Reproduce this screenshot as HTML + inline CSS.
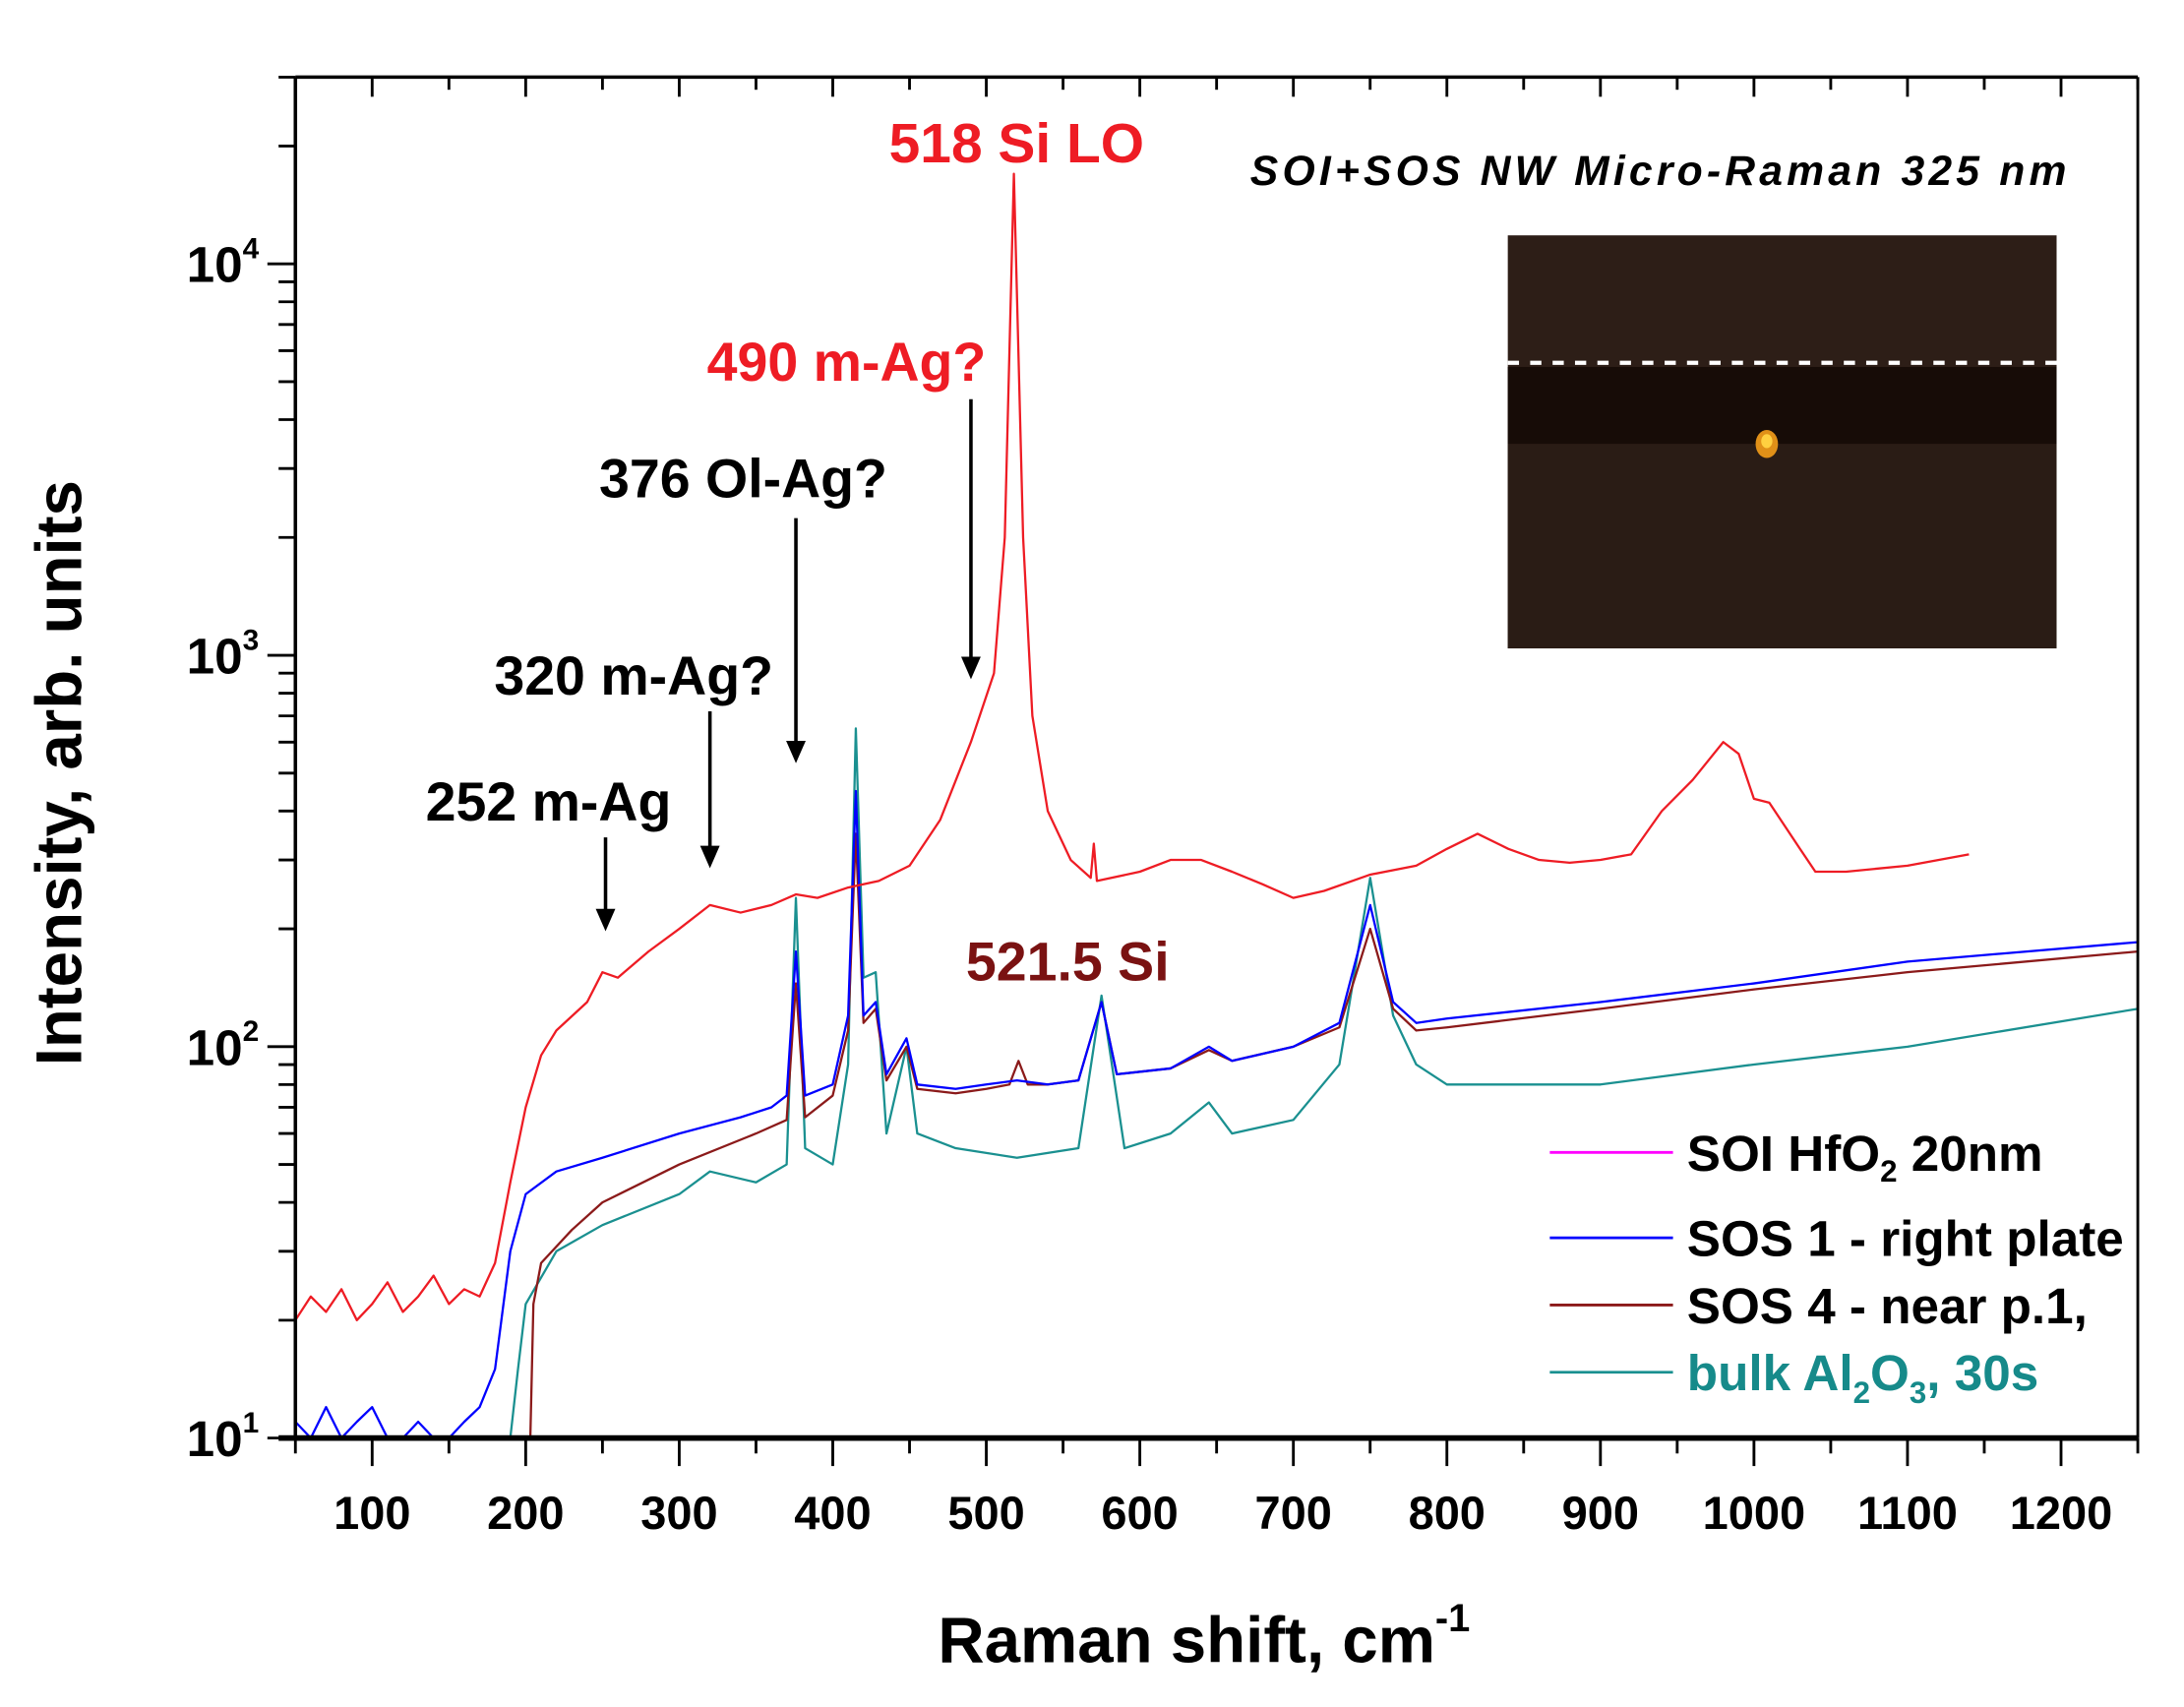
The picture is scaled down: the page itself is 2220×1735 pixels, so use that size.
<!DOCTYPE html>
<html><head><meta charset="utf-8"><style>
html,body{margin:0;padding:0;background:#fff;}
svg{display:block;font-family:"Liberation Sans",sans-serif;font-weight:bold;}
</style></head><body>
<svg id="chart" width="2220" height="1735" viewBox="0 0 1560 1219" xmlns="http://www.w3.org/2000/svg">
<g id="inset">
  <rect x="1077" y="168" width="392" height="295" fill="#2d1e17"/>
  <rect x="1077" y="262" width="392" height="55" fill="#170c07"/>
  <rect x="1077" y="317" width="392" height="146" fill="#2a1c15"/>
  <line x1="1077" y1="259" x2="1469" y2="259" stroke="#fff" stroke-width="3" stroke-dasharray="8,8"/>
  <ellipse cx="1262" cy="317" rx="8" ry="10" fill="#e09018"/>
  <ellipse cx="1262" cy="315" rx="4" ry="5" fill="#ffd040"/>
</g>
<g id="plot"></g>
<text x="893" y="132" font-size="30" font-style="italic" textLength="583" lengthAdjust="spacing">SOI+SOS NW  Micro-Raman  325 nm</text>
<text x="635" y="116" font-size="40" fill="#ee1c24">518 Si LO</text>
<text x="505" y="272" font-size="39" fill="#ee1c24">490 m-Ag?</text>
<text x="428" y="355" font-size="39">376 Ol-Ag?</text>
<text x="353" y="496" font-size="39">320 m-Ag?</text>
<text x="304" y="586" font-size="39">252 m-Ag</text>
<text x="690" y="700" font-size="39" fill="#7a1212">521.5 Si</text>
<text transform="translate(58,552) rotate(-90)" text-anchor="middle" font-size="46">Intensity, arb. units</text>
<text x="860" y="1187" text-anchor="middle" font-size="46">Raman shift, cm<tspan dy="-22" font-size="28">-1</tspan></text>
<g id="legend" font-size="36">
  <line x1="1107" y1="823" x2="1195" y2="823" stroke="#ff00ff" stroke-width="2"/>
  <text x="1205" y="836">SOI HfO<tspan dy="8" font-size="22">2</tspan><tspan dy="-8"> 20nm</tspan></text>
  <line x1="1107" y1="884" x2="1195" y2="884" stroke="#0000ff" stroke-width="2"/>
  <text x="1205" y="897">SOS 1 - right plate</text>
  <line x1="1107" y1="932" x2="1195" y2="932" stroke="#8b1a1a" stroke-width="2"/>
  <text x="1205" y="945">SOS 4 - near p.1,</text>
  <line x1="1107" y1="980" x2="1195" y2="980" stroke="#1a9090" stroke-width="2"/>
  <text x="1205" y="993" fill="#168a8a">bulk Al<tspan dy="9" font-size="22">2</tspan><tspan dy="-9">O</tspan><tspan dy="9" font-size="22">3</tspan><tspan dy="-9">, 30s</tspan></text>
</g>
<script>
const xTicks = [100,200,300,400,500,600,700,800,900,1000,1100,1200];
const yTickExps = [1,2,3,4];
const redX = [50,60,70,80,90,100,110,120,130,140,150,160,170,180,190,200,210,220,240,250,260,280,300,320,340,360,376,390,410,430,450,470,490,505,512,518,524,530,540,555,568,570,572,600,620,640,660,680,700,720,750,780,800,820,840,860,880,900,920,940,960,980,990,1000,1010,1030,1040,1060,1100,1140];
const redY = [20,23,21,24,20,22,25,21,23,26,22,24,23,28,45,70,95,110,130,155,150,175,200,230,220,230,245,240,255,265,290,380,600,900,2000,17000,2000,700,400,300,270,330,265,280,300,300,280,260,240,250,275,290,320,350,320,300,295,300,310,400,480,600,560,430,420,320,280,280,290,310];
const blueX = [50,60,70,80,90,100,110,120,130,140,150,160,170,180,190,200,220,250,300,340,360,370,376,382,400,410,415,420,428,435,448,455,480,500,520,540,560,575,585,620,645,660,700,730,750,765,780,800,900,1000,1100,1250];
const blueY = [11,10,12,10,11,12,10,10,11,10,10,11,12,15,30,42,48,52,60,66,70,75,175,75,80,120,450,120,130,85,105,80,78,80,82,80,82,130,85,88,100,92,100,115,230,130,115,118,130,145,165,185];
const maroonX = [203,205,210,230,250,300,350,370,376,382,400,410,415,420,428,435,448,455,480,500,515,521,527,540,560,575,585,620,645,660,700,730,750,765,780,800,900,1000,1100,1250];
const maroonY = [10,22,28,34,40,50,60,65,145,66,75,110,350,115,125,82,100,78,76,78,80,92,80,80,82,130,85,88,98,92,100,112,200,125,110,112,125,140,155,175];
const tealX = [190,195,200,220,250,300,320,350,370,376,382,400,410,415,420,428,435,448,455,480,520,560,575,590,620,645,660,700,730,750,765,780,800,900,1000,1100,1250];
const tealY = [10,15,22,30,35,42,48,45,50,240,55,50,90,650,150,155,60,100,60,55,52,55,135,55,60,72,60,65,90,270,120,90,80,80,90,100,125];
const arrowsX = [252,320,376,490];
const arrowTop = [598,508,370,285];
const arrowBot = [665,620,545,485];

const L=211,R=1527,T=55,B=1027,X0=50,X1=1250,Ymin=1,Ymax=Math.log10(30000);
function sx(v){return L+(v-X0)/(X1-X0)*(R-L);}
function sy(v){const l=Math.max(Math.log10(v),1);return B-(l-Ymin)/(Ymax-Ymin)*(B-T);}
const NS='http://www.w3.org/2000/svg';
const plot=document.getElementById('plot');
function mk(tag,attrs,parent){const e=document.createElementNS(NS,tag);for(const k in attrs)e.setAttribute(k,attrs[k]);(parent||plot).appendChild(e);return e;}
function series(xs,ys,color,name){
  const d=xs.map((x,i)=>(i?'L':'M')+sx(x).toFixed(1)+','+sy(ys[i]).toFixed(1)).join('');
  const p=mk('path',{d:d,fill:'none',stroke:color,'stroke-width':1.6,'stroke-linejoin':'round'});
  
  
}
series(tealX,tealY,'#1a9090','series-bulk-al2o3');
series(maroonX,maroonY,'#8b1a1a','series-sos4');
series(blueX,blueY,'#0000ff','series-sos1');
series(redX,redY,'#ee1c24','series-soi-hfo2');
const ax=mk('g',{stroke:'#000',fill:'none'});


mk('line',{x1:L,y1:T,x2:L,y2:B,'stroke-width':2.5},ax);
mk('line',{x1:R,y1:T,x2:R,y2:B,'stroke-width':2},ax);
mk('line',{x1:L,y1:T,x2:R,y2:T,'stroke-width':2.5},ax);
mk('line',{x1:L-12,y1:B,x2:R,y2:B,'stroke-width':4},ax);
for(let v=50;v<=1250;v+=50){
  const major=v%100===0;
  mk('line',{x1:sx(v),y1:B,x2:sx(v),y2:B+(major?20:11),'stroke-width':2},ax);
  mk('line',{x1:sx(v),y1:T,x2:sx(v),y2:T+(major?14:9),'stroke-width':2},ax);
}
for(let e=1;e<=4;e++){
  for(let m=1;m<=9;m++){
    const v=m*Math.pow(10,e); if(Math.log10(v)>Ymax)break;
    mk('line',{x1:L,y1:sy(v),x2:L-(m===1?20:12),y2:sy(v),'stroke-width':2},ax);
  }
}
xTicks.forEach(v=>{
  const t=mk('text',{x:sx(v),y:1092,'text-anchor':'middle','font-size':33,fill:'#000'});
  t.textContent=v;
  
  
});
yTickExps.forEach(e=>{
  const t=mk('text',{x:185,y:sy(Math.pow(10,e))+13,'text-anchor':'end','font-size':36,fill:'#000'});
  t.textContent='10';
  const s=document.createElementNS(NS,'tspan');s.setAttribute('dy','-17');s.setAttribute('font-size','21');s.textContent=e;t.appendChild(s);
  
  
});
arrowsX.forEach((v,i)=>{
  const g=mk('g',{});
  
  
  mk('line',{x1:sx(v),y1:arrowTop[i],x2:sx(v),y2:arrowBot[i]-12,stroke:'#000','stroke-width':2.5},g);
  mk('polygon',{points:`${sx(v)-7},${arrowBot[i]-16} ${sx(v)+7},${arrowBot[i]-16} ${sx(v)},${arrowBot[i]}`,fill:'#000'},g);
});
</script>
</svg>
</body></html>
